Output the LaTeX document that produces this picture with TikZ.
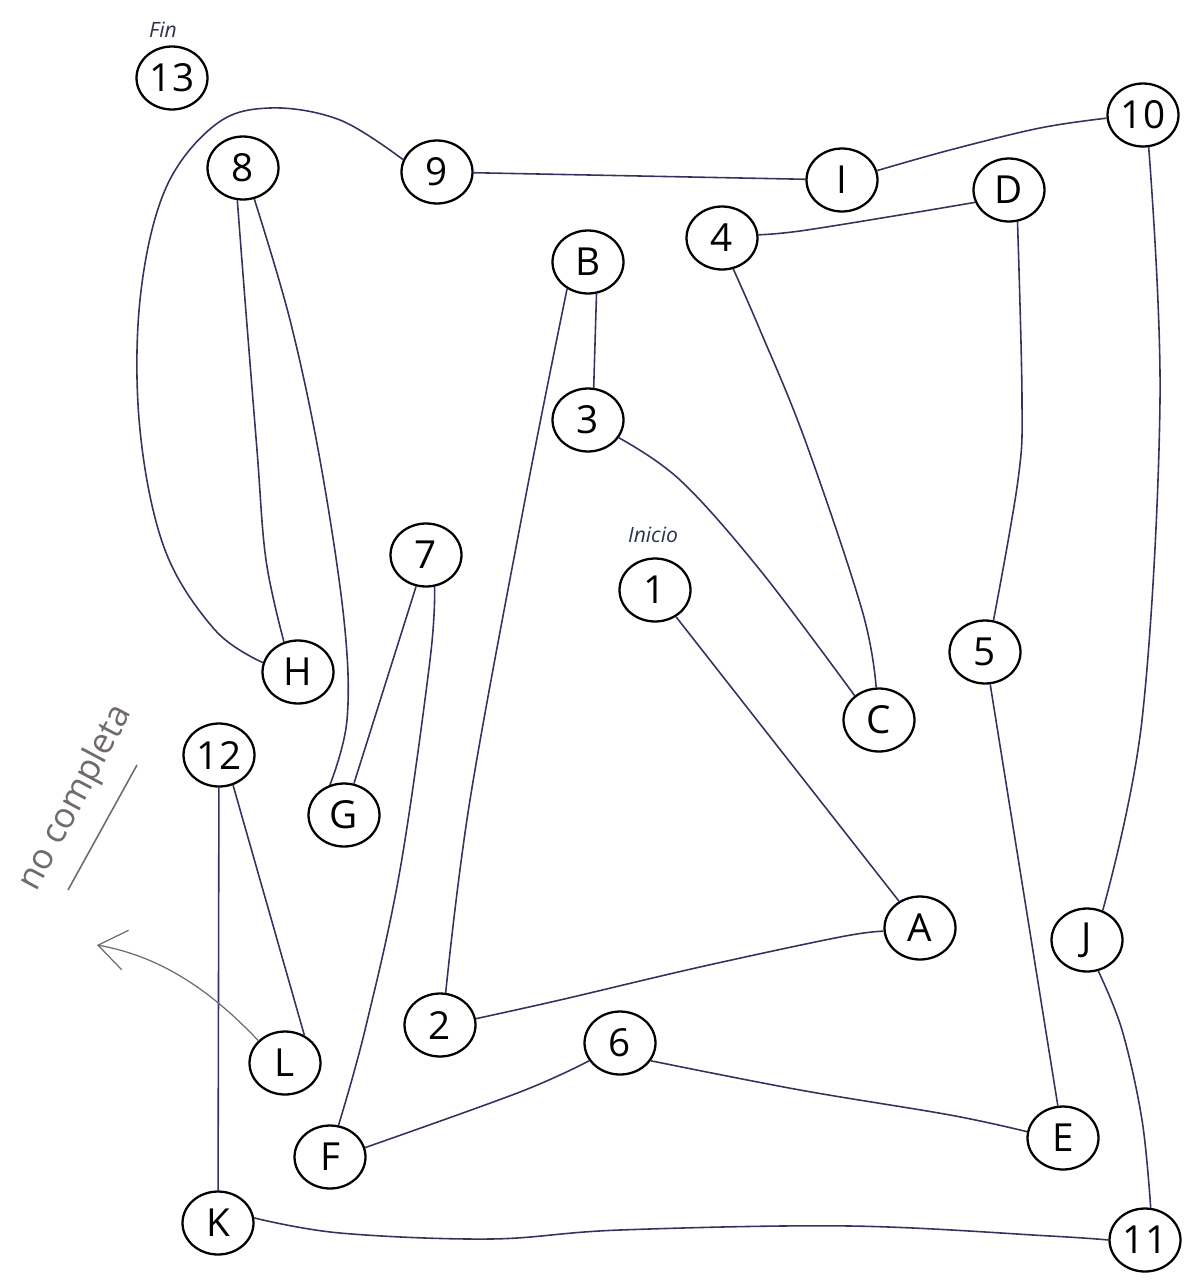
\documentclass[tikz,border=0pt]{standalone}
\usepackage{fontspec}
\setmainfont{Open Sans}
\usetikzlibrary{shapes.geometric,arrows.meta}
\definecolor{ink}{RGB}{58,48,96}
\definecolor{pencil}{RGB}{112,106,112}
\definecolor{lbl}{RGB}{45,50,80}
\begin{document}
\begin{tikzpicture}[x=0.02cm,y=0.02cm,
  nd/.style={ellipse,draw=black,line width=1.3pt,minimum width=1.42cm,minimum height=1.26cm,inner sep=0pt,font=\fontsize{22}{24}\selectfont},
  ed/.style={draw=ink,line width=0.9pt},
  sm/.style={smooth,tension=0.6},
  tag/.style={font=\fontsize{12}{14}\selectfont\itshape,text=lbl},
  hand/.style={font=\fontsize{20}{24}\selectfont,text=pencil},
  pen/.style={draw=pencil,line width=0.7pt}
]
\useasboundingbox (0,0) rectangle (1199,-1281);

% labels
\node[tag] (fin) at (163,-30) {Fin};
\node[tag] (inicio) at (653,-535) {Inicio};

% nodes
\node[nd] (n13) at (172,-78) {13};
\node[nd] (n10) at (1143,-115) {10};
\node[nd] (n8) at (243,-168) {8};
\node[nd] (n9) at (437,-172) {9};
\node[nd] (I) at (842,-180) {I};
\node[nd] (D) at (1009,-190) {D};
\node[nd] (n4) at (722,-238) {4};
\node[nd] (B) at (588,-262) {B};
\node[nd] (n3) at (588,-420) {3};
\node[nd] (n7) at (426,-555) {7};
\node[nd] (n1) at (655,-590) {1};
\node[nd] (n5) at (985,-652) {5};
\node[nd] (H) at (298,-672) {H};
\node[nd] (C) at (879,-720) {C};
\node[nd] (n12) at (219,-755) {12};
\node[nd] (G) at (344,-815) {G};
\node[nd] (A) at (920,-928) {A};
\node[nd] (J) at (1087,-940) {J};
\node[nd] (n2) at (440,-1025) {2};
\node[nd] (n6) at (620,-1043) {6};
\node[nd] (L) at (285,-1063) {L};
\node[nd] (E) at (1063,-1138) {E};
\node[nd] (F) at (330,-1157) {F};
\node[nd] (K) at (218,-1223) {K};
\node[nd] (n11) at (1145,-1240) {11};

% connectors
\draw[ed] (n1) -- (A);
\draw[ed] plot[sm] coordinates {(A.185) (840,-937) (700,-967) (560,-1000) (n2.10)};
\draw[ed] plot[sm] coordinates {(n2.80) (470,-800) (525,-500) (B.232)};
\draw[ed] (B.285) -- (n3.80);
\draw[ed] plot[sm] coordinates {(n3.330) (680,-480) (760,-570) (C.135)};
\draw[ed] plot[sm] coordinates {(C.95) (862,-610) (805,-440) (760,-330) (n4.290)};
\draw[ed] plot[sm] coordinates {(n4.5) (800,-231) (900,-215) (D.200)};
\draw[ed] plot[sm] coordinates {(D.285) (1022,-400) (1018,-480) (n5.75)};
\draw[ed] (n5) -- (E);
\draw[ed] plot[sm] coordinates {(E.170) (950,-1115) (800,-1090) (n6.330)};
\draw[ed] plot[sm] coordinates {(n6.210) (520,-1092) (F.15)};
\draw[ed] plot[sm] coordinates {(F.75) (365,-1030) (400,-870) (430,-660) (n7.285)};
\draw[ed] (n7) -- (G);
\draw[ed] plot[sm] coordinates {(G.115) (347,-720) (344,-620) (320,-460) (290,-320) (n8.290)};
\draw[ed] plot[sm] coordinates {(n8.260) (245,-300) (257,-450) (266,-560) (H.115)};
\draw[ed] plot[sm] coordinates {(H.165) (215,-630) (165,-550) (140,-430) (140,-300) (165,-190) (215,-125) (270,-108) (340,-120) (n9.160)};
\draw[ed] (n9) -- (I);
\draw[ed] plot[sm] coordinates {(I.15) (950,-150) (1040,-128) (n10.185)};
\draw[ed] plot[sm] coordinates {(n10.280) (1160,-400) (1142,-720) (J.62)};
\draw[ed] plot[sm] coordinates {(J.290) (1122,-1030) (1142,-1120) (n11.80)};
\draw[ed] plot[sm] coordinates {(n11.180) (1050,-1236) (850,-1226) (620,-1230) (490,-1239) (340,-1233) (K.8)};
\draw[ed] (K) -- (n12);
\draw[ed] (n12.295) -- (L.55);

% annotation
\node[hand,rotate=62] (nc) at (76,-798) {no completa};
\coordinate (ul1) at (68,-890);
\coordinate (ul2) at (137,-765);
\draw[pen,line width=0.9pt] (ul1) -- (ul2);
\coordinate (tip) at (97,-945);
\draw[pen,-{Straight Barb[length=0.55cm,width=0.8cm]}] (L.140) .. controls (215,-995) and (165,-957) .. (tip);
\end{tikzpicture}
\end{document}
